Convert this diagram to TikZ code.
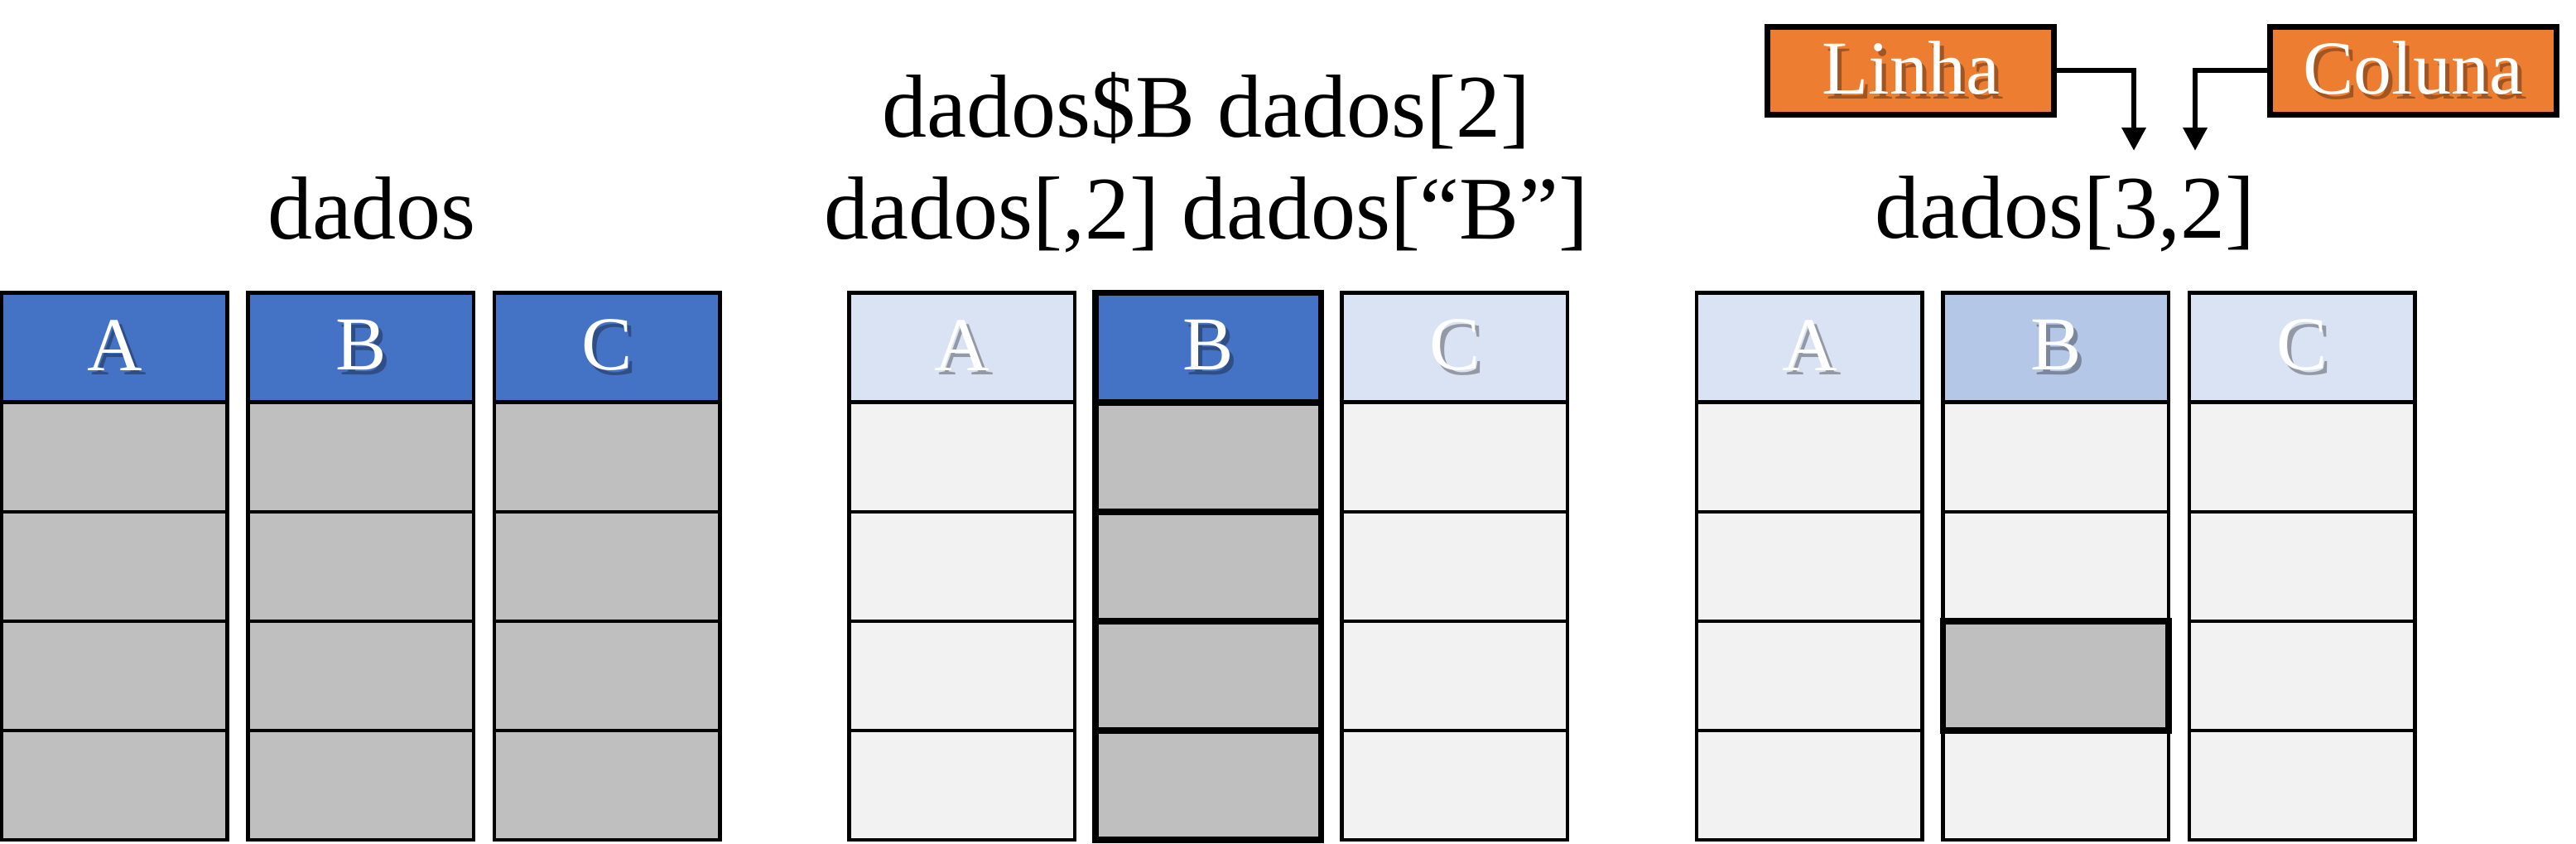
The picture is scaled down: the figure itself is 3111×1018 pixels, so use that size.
\documentclass[tikz,border=0pt]{standalone}
\usepackage{fontspec}
\setmainfont{Liberation Serif}
\usetikzlibrary{arrows.meta}
\definecolor{hdark}{HTML}{4472C4}
\definecolor{hlight}{HTML}{DAE3F3}
\definecolor{hmid}{HTML}{B4C7E7}
\definecolor{cgray}{HTML}{BFBFBF}
\definecolor{clight}{HTML}{F2F2F2}
\definecolor{orng}{HTML}{ED7D31}
\newcommand\shd[2]{\leavevmode\rlap{\kern1.3pt\raisebox{-1.3pt}{\color{#1!68!black}#2}}#2}
\tikzset{
  cell/.style={draw=black, line width=1.1pt, minimum width=68.1pt, minimum height=33pt, inner sep=0pt, outer sep=0pt},
  thick cell/.style={cell, line width=1.8pt},
  hdr/.style={cell, text=white, font=\fontsize{23pt}{23pt}\selectfont},
  lbl/.style={font=\fontsize{27pt}{31pt}\selectfont, inner sep=0pt, anchor=base},
  obox/.style={draw=black, line width=1.75pt, fill=orng, minimum width=86.5pt, minimum height=26.5pt, inner sep=0pt, text=white, font=\fontsize{23pt}{23pt}\selectfont},
  conn/.style={line width=1.65pt, -{Triangle[width=7pt,length=7pt]}},
}
\begin{document}
\begin{tikzpicture}[x=0.25pt,y=-0.25pt]
\useasboundingbox (0,0) rectangle (3111,1018);
% ---------- left table: dados
\foreach \c/\ci in {A/0,B/1,C/2}{
  \node[hdr, fill=hdark] (L\c0) at ({2+297.5*\ci+136.25},419.5) {\shd{hdark}{\c}};
  \foreach \r/\ry in {1/552,2/684,3/816,4/948}
    \node[cell, fill=cgray] (L\c\r) at ({2+297.5*\ci+136.25},\ry) {};
}
% ---------- middle table: column B
\foreach \c/\ci/\hf/\bf/\st in {A/0/hlight/clight/cell, C/2/hlight/clight/cell, B/1/hdark/cgray/thick cell}{
  \node[hdr, \st, fill=\hf] (M\c0) at ({1025.5+297.5*\ci+136.25},419.5) {\shd{\hf}{\c}};
  \foreach \r/\ry in {1/552,2/684,3/816,4/948}
    \node[\st, fill=\bf] (M\c\r) at ({1025.5+297.5*\ci+136.25},\ry) {};
}
% ---------- right table: cell [3,2]
\foreach \c/\ci/\hf in {A/0/hlight, B/1/hmid, C/2/hlight}{
  \node[hdr, fill=\hf] (R\c0) at ({2049+297.5*\ci+136.25},419.5) {\shd{\hf}{\c}};
  \foreach \r/\ry in {1/552,2/684,3/816,4/948}
    \node[cell, fill=clight] (R\c\r) at ({2049+297.5*\ci+136.25},\ry) {};
}
\node[thick cell, fill=cgray] (RB3sel) at ({2049+297.5+136.25},816) {};
% ---------- labels
\node[lbl] (t0) at (449,288) {dados};
\node[lbl] (t1) at (1457,165) {dados\$B dados[2]};
\node[lbl] (t2) at (1457,288) {dados[,2] dados[“B”]};
\node[lbl] (idx) at (2494,287) {dados[3,2]};
% ---------- Linha / Coluna
\node[obox] (linha) at (2307.5,85) {\shd{orng}{Linha}};
\node[obox] (coluna) at (2914,85) {\shd{orng}{Coluna}};
\coordinate (pL) at (2577,182);
\coordinate (pC) at (2651,182);
\draw[conn] (linha.east) -| (pL);
\draw[conn] (coluna.west) -| (pC);
\end{tikzpicture}
\end{document}
